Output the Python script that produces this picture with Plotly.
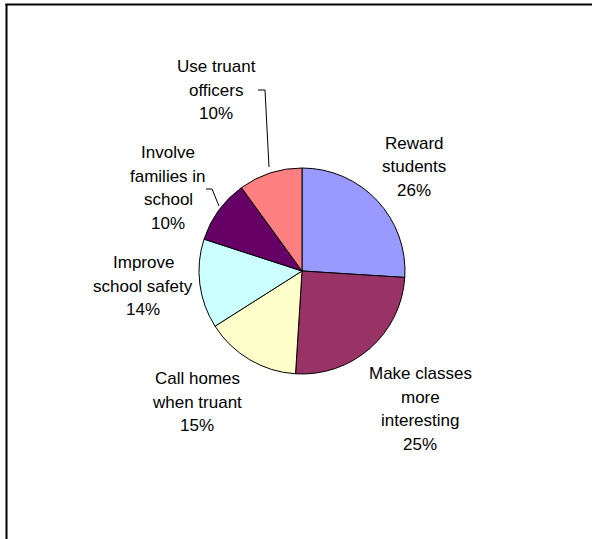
import plotly.graph_objects as go

W, H = 592, 539

# ---- data ----
categories = ["Reward students", "Make classes more interesting", "Call homes when truant",
              "Improve school safety", "Involve families in school", "Use truant officers"]
values = [26, 25, 15, 14, 10, 10]
colors = ["#9999FF", "#993366", "#FFFFCC", "#CCFFFF", "#660066", "#FF8080"]

# label text lines (wrapped as in the reference)
label_lines = [
    ["Reward", "students"],
    ["Make classes", "more", "interesting"],
    ["Call homes", "when truant"],
    ["Improve", "school safety"],
    ["Involve", "families in", "school"],
    ["Use truant", "officers"],
]

# ---- layout (pixel positions of label block centres) ----
label_pos = [(414, 167), (420, 409), (197, 402), (143, 286), (168, 188), (216, 90)]
LINE_H = 23.5
cx, cy, r = 302, 271, 103


def px(x):
    return x / W


def py(y):
    return 1 - y / H


fig = go.Figure(go.Pie(
    labels=categories,
    values=values,
    marker=dict(colors=colors, line=dict(color="black", width=1)),
    sort=False,
    direction="clockwise",
    rotation=0,
    textinfo="none",
    hoverinfo="label+percent",
    domain=dict(x=[px(cx - r), px(cx + r)], y=[py(cy + r), py(cy - r)]),
    showlegend=False,
))

total = sum(values)
annotations = []
for lines, v, (lx, ly) in zip(label_lines, values, label_pos):
    all_lines = lines + [f"{round(100 * v / total)}%"]
    n = len(all_lines)
    for i, t in enumerate(all_lines):
        yy = ly + (i - (n - 1) / 2) * LINE_H
        annotations.append(dict(
            x=px(lx), y=py(yy), xref="paper", yref="paper", text=t,
            showarrow=False, xanchor="center", yanchor="middle",
            font=dict(family="Liberation Sans, Arial, sans-serif", size=17, color="black"),
        ))

shapes = []
# leader lines
for path in [[(258, 90), (265, 90), (269, 167)], [(206, 189), (212, 189), (219, 206)]]:
    for (x0, y0), (x1, y1) in zip(path[:-1], path[1:]):
        shapes.append(dict(type="line", xref="paper", yref="paper",
                           x0=px(x0), y0=py(y0), x1=px(x1), y1=py(y1),
                           line=dict(color="black", width=1)))
# chart frame (top and left edges visible)
shapes.append(dict(type="line", xref="paper", yref="paper", x0=px(5.5), y0=py(4.5), x1=1.02, y1=py(4.5),
                   line=dict(color="black", width=2)))
shapes.append(dict(type="line", xref="paper", yref="paper", x0=px(6.5), y0=py(4), x1=px(6.5), y1=-0.02,
                   line=dict(color="black", width=2)))

fig.update_layout(
    width=W, height=H,
    margin=dict(l=0, r=0, t=0, b=0),
    paper_bgcolor="white", plot_bgcolor="white",
    annotations=annotations,
    shapes=shapes,
)

fig.write_html("out.html", config={"displayModeBar": False},
               post_script="document.body.style.margin='0';document.body.style.overflow='hidden';")
